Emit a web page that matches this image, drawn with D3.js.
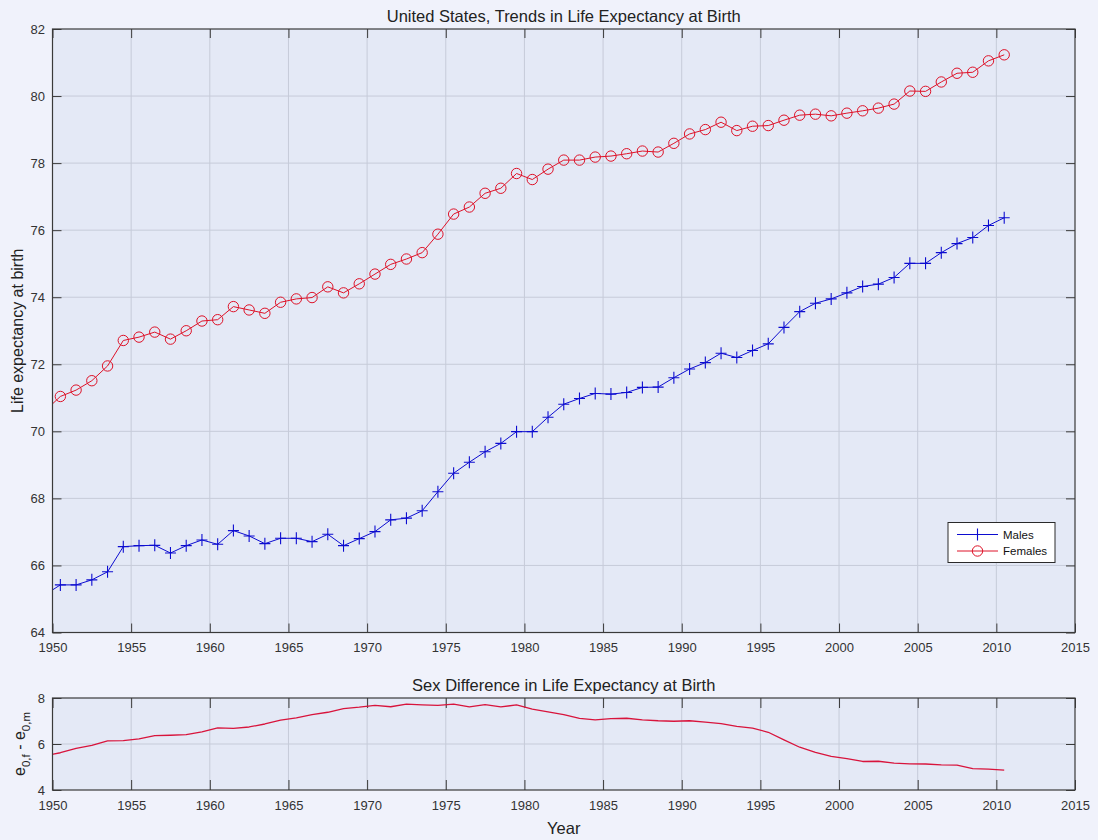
<!DOCTYPE html>
<html>
<head>
<meta charset="utf-8">
<script src="https://cdn.jsdelivr.net/npm/d3@7"></script>
<style>
  html, body { margin: 0; padding: 0; background: #f0f2fb; }
  svg { display: block; font-family: "Liberation Sans", Arial, Helvetica, sans-serif; }
</style>
</head>
<body>
<svg id="chart" width="1098" height="840"></svg>
<script>
// Calendar years (plotted at mid-year, year + 0.5)
const years = d3.range(1949, 2011);

// Period life expectancy at birth, United States
const males = [
  65.12,
  65.42, 65.42, 65.57, 65.81, 66.56, 66.59, 66.60, 66.37, 66.59, 66.76,
  66.63, 67.04, 66.88, 66.65, 66.81, 66.81, 66.71, 66.93, 66.59, 66.80,
  67.01, 67.36, 67.41, 67.63, 68.20, 68.75, 69.08, 69.39, 69.64, 69.99,
  69.99, 70.42, 70.81, 70.98, 71.13, 71.11, 71.16, 71.31, 71.32, 71.60,
  71.86, 72.05, 72.33, 72.20, 72.41, 72.61, 73.10, 73.57, 73.82, 73.95,
  74.13, 74.32, 74.39, 74.59, 75.01, 75.01, 75.33, 75.60, 75.78, 76.14,
  76.37
];
const females = [
  70.60,
  71.04, 71.23, 71.51, 71.95, 72.71, 72.81, 72.96, 72.75, 73.00, 73.29,
  73.33, 73.72, 73.62, 73.52, 73.85, 73.95, 73.99, 74.31, 74.13, 74.40,
  74.69, 74.98, 75.14, 75.33, 75.88, 76.48, 76.69, 77.10, 77.25, 77.69,
  77.51, 77.82, 78.09, 78.09, 78.18, 78.21, 78.28, 78.36, 78.33, 78.59,
  78.87, 79.00, 79.22, 78.97, 79.10, 79.12, 79.28, 79.43, 79.46, 79.41,
  79.49, 79.56, 79.64, 79.76, 80.15, 80.14, 80.42, 80.68, 80.71, 81.05,
  81.23
];

const xTicks = d3.range(1950, 2016, 5);
const yTicksTop = d3.range(64, 83, 2);
const yTicksBottom = [4, 6, 8];

const seriesInfo = [
  { name: "Males", values: males, color: "#0c0cd0", marker: "plus" },
  { name: "Females", values: females, color: "#de1228", marker: "circle" }
];

// Female minus male gap
const gap = females.map((f, i) => f - males[i]);

const svg = d3.select("#chart");
const axisColor = "#3a3a3a";
const gridColor = "#c6cbd9";
const textColor = "#333333";
const plotBg = "#e4e9f6";

const xDomain = [1950, 2015];
const upperBox = { x0: 52.5, x1: 1075, y0: 29, y1: 632.5 };
const lowerBox = { x0: 52.5, x1: 1075, y0: 698, y1: 790 };

function panel(box, yDomain, yTicks, tickLen, xPad, clipId) {
  const x = d3.scaleLinear().domain(xDomain).range([box.x0, box.x1]);
  const y = d3.scaleLinear().domain(yDomain).range([box.y1, box.y0]);
  const g = svg.append("g");

  g.append("rect")
    .attr("x", box.x0).attr("y", box.y0)
    .attr("width", box.x1 - box.x0).attr("height", box.y1 - box.y0)
    .attr("fill", plotBg);

  // grid
  g.append("g").selectAll("line").data(xTicks.slice(1, -1)).join("line")
    .attr("x1", d => x(d)).attr("x2", d => x(d))
    .attr("y1", box.y0).attr("y2", box.y1)
    .attr("stroke", gridColor).attr("stroke-width", 1);
  g.append("g").selectAll("line").data(yTicks.slice(1, -1)).join("line")
    .attr("y1", d => y(d)).attr("y2", d => y(d))
    .attr("x1", box.x0).attr("x2", box.x1)
    .attr("stroke", gridColor).attr("stroke-width", 1);

  svg.append("clipPath").attr("id", clipId)
    .append("rect")
    .attr("x", box.x0).attr("y", box.y0)
    .attr("width", box.x1 - box.x0).attr("height", box.y1 - box.y0);

  const axes = {
    bottom: d3.axisBottom(x).tickValues(xTicks).tickFormat(d3.format("d")).tickSizeInner(-tickLen).tickSizeOuter(0).tickPadding(xPad),
    topA: d3.axisTop(x).tickValues(xTicks).tickFormat("").tickSizeInner(-tickLen).tickSizeOuter(0),
    left: d3.axisLeft(y).tickValues(yTicks).tickFormat(d3.format("d")).tickSizeInner(-9).tickSizeOuter(0).tickPadding(7.5),
    right: d3.axisRight(y).tickValues(yTicks).tickFormat("").tickSizeInner(-9).tickSizeOuter(0)
  };
  const place = {
    bottom: `translate(0,${box.y1})`, topA: `translate(0,${box.y0})`,
    left: `translate(${box.x0},0)`, right: `translate(${box.x1},0)`
  };
  const axisGroups = {};
  for (const k of Object.keys(axes)) {
    const a = g.append("g").attr("transform", place[k]).call(axes[k]);
    a.selectAll("path").remove();
    a.selectAll("line").attr("stroke", axisColor);
    a.selectAll("text").attr("fill", textColor).attr("font-size", 13)
      .attr("font-family", "Liberation Sans, Arial, sans-serif");
    axisGroups[k] = a;
  }
  return { x, y, g, box, axisGroups };
}

function frame(p) {
  const b = p.box;
  p.g.append("rect")
    .attr("x", b.x0).attr("y", b.y0)
    .attr("width", b.x1 - b.x0).attr("height", b.y1 - b.y0)
    .attr("fill", "none").attr("stroke", axisColor).attr("stroke-width", 1.2);
}

// ---------- upper panel: life expectancy by sex ----------
const P1 = panel(upperBox, [64, 82], yTicksTop, 9, 10, "clipTop");

const line1 = d3.line()
  .x((d, i) => P1.x(years[i] + 0.5))
  .y(d => P1.y(d));

const plotG = P1.g.append("g").attr("clip-path", "url(#clipTop)");

function drawMarker(sel, type, color) {
  if (type === "circle") {
    sel.append("circle").attr("r", 5.2)
      .attr("fill", "none").attr("stroke", color).attr("stroke-width", 1);
  } else {
    sel.append("path").attr("d", "M-5.5,0H5.5M0,-6V6")
      .attr("fill", "none").attr("stroke", color).attr("stroke-width", 1.1);
  }
}

seriesInfo.forEach(s => {
  plotG.append("path")
    .datum(s.values)
    .attr("d", line1)
    .attr("fill", "none")
    .attr("stroke", s.color)
    .attr("stroke-width", 1);
  const pts = s.values
    .map((v, i) => ({ t: years[i] + 0.5, v }))
    .filter(d => d.t >= xDomain[0] && d.t <= xDomain[1]);
  plotG.append("g").selectAll("g").data(pts).join("g")
    .attr("transform", d => `translate(${P1.x(d.t)},${P1.y(d.v)})`)
    .each(function () { drawMarker(d3.select(this), s.marker, s.color); });
});

frame(P1);

// legend
const lg = svg.append("g").attr("transform", "translate(948,522.5)");
lg.append("rect").attr("width", 107).attr("height", 40)
  .attr("fill", "#ffffff").attr("stroke", "#2a2a2a").attr("stroke-width", 1);
seriesInfo.forEach((s, i) => {
  const yy = 12 + i * 16.5;
  lg.append("line").attr("x1", 9).attr("x2", 50).attr("y1", yy).attr("y2", yy)
    .attr("stroke", s.color).attr("stroke-width", 1);
  const m = lg.append("g").attr("transform", `translate(29.5,${yy})`);
  drawMarker(m, s.marker, s.color);
  lg.append("text").attr("x", 55).attr("y", yy).attr("dy", "0.35em")
    .attr("font-size", 11.5).attr("fill", "#111").text(s.name);
});

svg.append("text")
  .attr("x", (upperBox.x0 + upperBox.x1) / 2).attr("y", 22)
  .attr("text-anchor", "middle").attr("font-size", 16.5).attr("fill", "#222")
  .text("United States, Trends in Life Expectancy at Birth");

svg.append("text")
  .attr("transform", `translate(23,${(upperBox.y0 + upperBox.y1) / 2}) rotate(-90)`)
  .attr("text-anchor", "middle").attr("font-size", 16).attr("fill", "#222")
  .text("Life expectancy at birth");

// ---------- lower panel: sex gap ----------
const P2 = panel(lowerBox, [4, 8], yTicksBottom, 10, 11, "clipBot");

const line2 = d3.line()
  .x((d, i) => P2.x(years[i] + 0.5))
  .y(d => P2.y(d));

P2.g.append("g").attr("clip-path", "url(#clipBot)")
  .append("path")
  .datum(gap)
  .attr("d", line2)
  .attr("fill", "none")
  .attr("stroke", "#d8143c")
  .attr("stroke-width", 1.3)
  .attr("stroke-linejoin", "round");

frame(P2);

svg.append("text")
  .attr("x", (lowerBox.x0 + lowerBox.x1) / 2).attr("y", 691)
  .attr("text-anchor", "middle").attr("font-size", 16.5).attr("fill", "#222")
  .text("Sex Difference in Life Expectancy at Birth");

svg.append("text")
  .attr("x", (lowerBox.x0 + lowerBox.x1) / 2).attr("y", 834)
  .attr("text-anchor", "middle").attr("font-size", 16.5).attr("fill", "#222")
  .text("Year");

// y label with subscripts: e_{0,f} - e_{0,m}
const yl = svg.append("text")
  .attr("transform", `translate(25,${(lowerBox.y0 + lowerBox.y1) / 2}) rotate(-90)`)
  .attr("text-anchor", "middle").attr("font-size", 16).attr("fill", "#222");
yl.append("tspan").text("e");
yl.append("tspan").attr("font-size", 11.5).attr("dy", 5).text("0,f");
yl.append("tspan").attr("dy", -5).text(" - e");
yl.append("tspan").attr("font-size", 11.5).attr("dy", 5).text("0,m");
</script>
</body>
</html>
